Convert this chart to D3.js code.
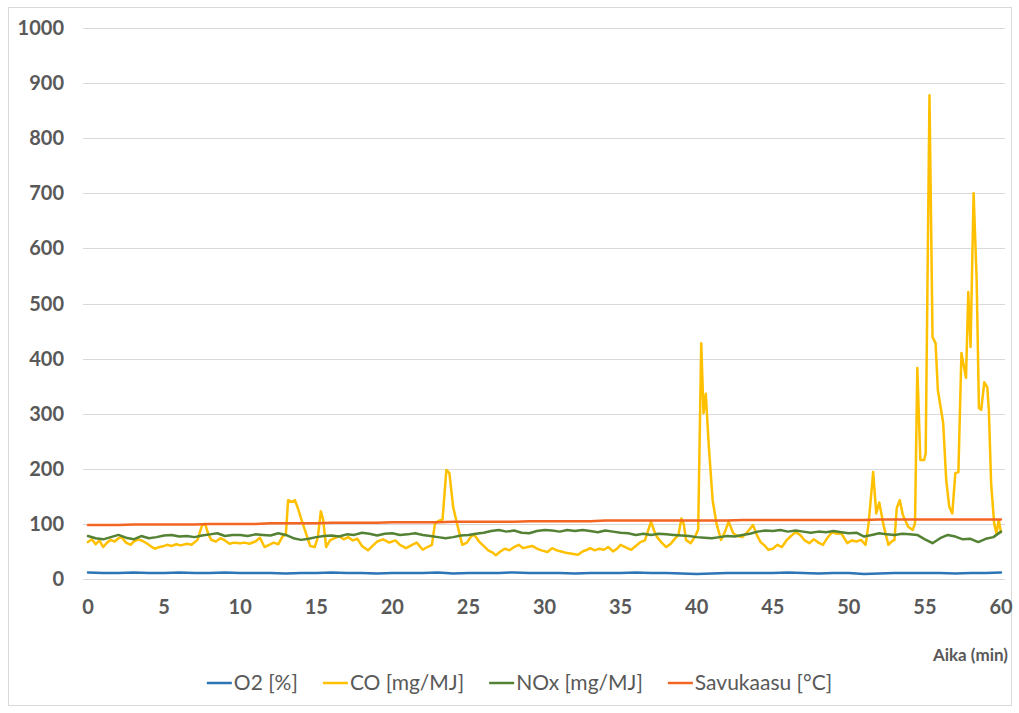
<!DOCTYPE html>
<html lang="fi">
<head>
<meta charset="utf-8">
<title>Savukaasumittaus</title>
<script src="https://cdnjs.cloudflare.com/ajax/libs/d3/7.8.5/d3.min.js"></script>
<style>
  body { margin: 0; background: #fff; }
  svg { display: block; font-family: Lato, "Open Sans", sans-serif; }
  .tick-label { fill: #595959; font-weight: bold; font-size: 20px; }
  .legend-label { fill: #595959; font-size: 21px; }
</style>
</head>
<body>
<div id="viz"></div>
<script>
// axis ticks
var yTicks = [0, 100, 200, 300, 400, 500, 600, 700, 800, 900, 1000];
var xTicks = [0, 5, 10, 15, 20, 25, 30, 35, 40, 45, 50, 55, 60];

// series names + colours (legend order)
var seriesNames = ["O2 [%]", "CO [mg/MJ]", "NOx [mg/MJ]", "Savukaasu [°C]"];
var seriesColors = ["#2e75b6", "#ffc000", "#548235", "#f26522"];

// O2 and flue gas temperature, one reading per minute
var minuteTime = d3.range(0, 61, 1);
var o2Values = [12,11,11,12,11,11,12,11,11,12, 11,11,11,10,11,11,12,11,11,10,
                11,11,11,12,10,11,11,11,12,11, 11,11,10,11,11,11,12,11,11,10,
                9,10,11,11,11,11,12,11,10,11, 11,9,10,11,11,11,11,10,11,11, 12];
var savuValues = [98,98,98,99,99,99,99,99,100,100, 100,100,101,101,101,101,102,102,102,102,
                  103,103,103,103,104,104,104,104,104,105, 105,105,105,105,106,106,106,106,106,106,
                  106,106,106,107,107,107,107,107,107,107, 107,107,108,108,108,108,108,108,108,108, 108];

// NOx, every half minute
var noxTime = d3.range(0, 60.01, 0.5);
var noxValues = [78,74,72,76,80,75,72,78,74,76, 79,80,77,78,76,79,81,83,78,80,
                 80,78,81,80,79,83,80,74,71,73, 76,78,79,77,81,80,84,82,79,82,
                 83,80,81,83,80,78,76,74,76,79, 80,82,84,87,89,86,88,84,83,87,
                 89,88,86,89,87,89,87,85,88,86, 84,83,80,82,80,82,81,80,79,78,
                 76,75,74,76,78,77,80,82,86,88, 87,89,86,88,86,84,86,85,87,85,
                 83,84,77,80,83,81,80,82,81,80, 72,65,74,80,77,72,73,67,73,76, 86];

var coTime = [0,0.25,0.5,0.75,1,1.25,1.5,1.75,2,2.2,2.5,2.8,3,3.3,3.6,3.9,4.2,4.4,4.7,5,
  5.2,5.5,5.8,6.1,6.5,6.8,7.2,7.5,7.7,7.9,8.1,8.4,8.7,9,9.3,9.6,10,10.3,10.6,11,
  11.3,11.6,11.9,12.2,12.5,12.8,13,13.15,13.4,13.6,13.8,14,14.3,14.6,14.9,15.1,15.3,15.45,15.65,15.9,
  16.2,16.5,16.8,17.1,17.4,17.7,18,18.4,18.7,19,19.4,19.8,20.2,20.5,20.9,21.3,21.6,22,22.3,22.6,
  22.8,23,23.3,23.55,23.75,24,24.3,24.6,24.9,25.2,25.4,25.7,26,26.3,26.6,26.8,27.1,27.4,27.7,28,
  28.3,28.6,28.9,29.2,29.5,29.8,30.2,30.5,30.8,31.1,31.5,31.8,32.2,32.5,32.8,33,33.3,33.6,33.9,34.2,
  34.5,34.8,35,35.3,35.7,36,36.3,36.6,37,37.2,37.4,37.7,38,38.3,38.5,38.8,39,39.15,39.3,39.6,
  39.9,40.1,40.3,40.45,40.6,40.8,41.05,41.3,41.6,41.85,42.1,42.4,42.7,43,43.3,43.7,43.95,44.2,44.5,44.7,
  45,45.3,45.6,45.9,46.2,46.5,46.8,47.1,47.4,47.7,48,48.3,48.6,48.9,49.2,49.5,49.9,50.2,50.5,50.8,
  51.1,51.3,51.6,51.8,52,52.3,52.6,52.8,53,53.15,53.35,53.55,53.9,54.2,54.35,54.5,54.7,54.95,55.05,55.3,
  55.5,55.7,55.85,56.2,56.4,56.6,56.8,57,57.2,57.4,57.7,57.85,58,58.2,58.4,58.55,58.7,58.9,59.1,59.2,
  59.35,59.55,59.7,59.85,60];
var coValues = [67,72,63,70,58,66,71,68,74,76,66,62,68,72,69,64,58,55,58,60,
  62,60,63,61,64,62,71,98,100,82,71,68,74,70,64,66,65,66,64,68,
  75,58,62,66,63,78,80,143,140,143,128,110,85,60,58,75,123,108,58,70,
  74,78,72,76,70,73,60,52,60,68,72,66,70,62,56,62,66,53,58,62,
  100,105,108,198,192,130,95,62,66,78,80,68,60,52,48,43,50,55,52,58,
  62,56,58,60,55,52,49,56,52,50,47,46,44,50,53,56,52,55,53,58,
  50,56,62,58,53,60,67,70,104,88,76,66,58,64,71,80,110,100,71,65,
  77,90,428,301,336,240,143,101,71,85,104,83,78,76,84,98,80,67,60,53,
  55,62,58,70,78,85,80,70,65,72,66,62,75,85,82,83,65,70,68,71,
  62,101,194,119,139,95,62,68,71,129,143,116,95,89,101,383,216,216,228,878,
  439,428,343,283,180,131,119,192,194,410,365,521,421,700,543,310,307,357,348,307,
  174,101,83,107,85];

var w = 1019, h = 713;

var x = d3.scaleLinear().domain([0, 60]).range([88, 1001]);
var y = d3.scaleLinear().domain([0, 1000]).range([579, 28]);

function zip(times, values) {
  var n = Math.min(times.length, values.length);
  return d3.range(n).map(i => ({t: times[i], v: values[i]}));
}

var series = [
  zip(minuteTime, o2Values),
  zip(coTime, coValues),
  zip(noxTime, noxValues),
  zip(minuteTime, savuValues)
];

var svg = d3.select("#viz").append("svg")
  .attr("width", w)
  .attr("height", h);

// chart border
svg.append("rect")
  .attr("x", 8.5).attr("y", 7.5)
  .attr("width", 1003).attr("height", 698)
  .attr("fill", "#fff")
  .attr("stroke", "#d9d9d9");

// horizontal gridlines
svg.append("g").selectAll("line")
  .data(yTicks)
  .enter().append("line")
  .attr("x1", x(0) - 5).attr("x2", x(60) + 4)
  .attr("y1", d => Math.round(y(d)) + 0.5)
  .attr("y2", d => Math.round(y(d)) + 0.5)
  .attr("stroke", "#d9d9d9")
  .attr("stroke-width", 1);

// y labels
svg.append("g").selectAll("text")
  .data(yTicks)
  .enter().append("text")
  .attr("class", "tick-label")
  .attr("x", 64)
  .attr("y", d => y(d))
  .attr("dy", "0.35em")
  .attr("text-anchor", "end")
  .text(d => d);

// x labels
svg.append("g").selectAll("text")
  .data(xTicks)
  .enter().append("text")
  .attr("class", "tick-label")
  .attr("x", d => x(d))
  .attr("y", 607)
  .attr("dy", "0.35em")
  .attr("text-anchor", "middle")
  .text(d => d);

svg.append("text")
  .attr("class", "tick-label")
  .style("font-size", "17px")
  .attr("x", 1008)
  .attr("y", 655)
  .attr("dy", "0.35em")
  .attr("text-anchor", "end")
  .text("Aika (min)");

// the lines
var line = d3.line()
  .x(d => x(d.t))
  .y(d => y(d.v));

svg.append("g").selectAll("path")
  .data(series)
  .enter().append("path")
  .attr("d", line)
  .attr("fill", "none")
  .attr("stroke", (d, i) => seriesColors[i])
  .attr("stroke-width", 2.5)
  .attr("stroke-linejoin", "round")
  .attr("stroke-linecap", "round");

// legend, laid out from measured text widths and centred
var legendG = svg.append("g");
var items = legendG.selectAll("g")
  .data(seriesNames)
  .enter().append("g");

items.append("line")
  .attr("x1", 0).attr("x2", 25)
  .attr("y1", 0).attr("y2", 0)
  .attr("stroke", (d, i) => seriesColors[i])
  .attr("stroke-width", 2.5);

items.append("text")
  .attr("class", "legend-label")
  .attr("x", 27)
  .attr("dy", "0.35em")
  .text(d => d);

var pos = 0;
items.each(function() {
  var tw = this.querySelector("text").getComputedTextLength();
  d3.select(this).attr("transform", "translate(" + pos + ",0)");
  pos += 27 + tw + 25;
});
pos -= 25;
legendG.attr("transform", "translate(" + (519.5 - pos / 2) + ",683)");
</script>
</body>
</html>
